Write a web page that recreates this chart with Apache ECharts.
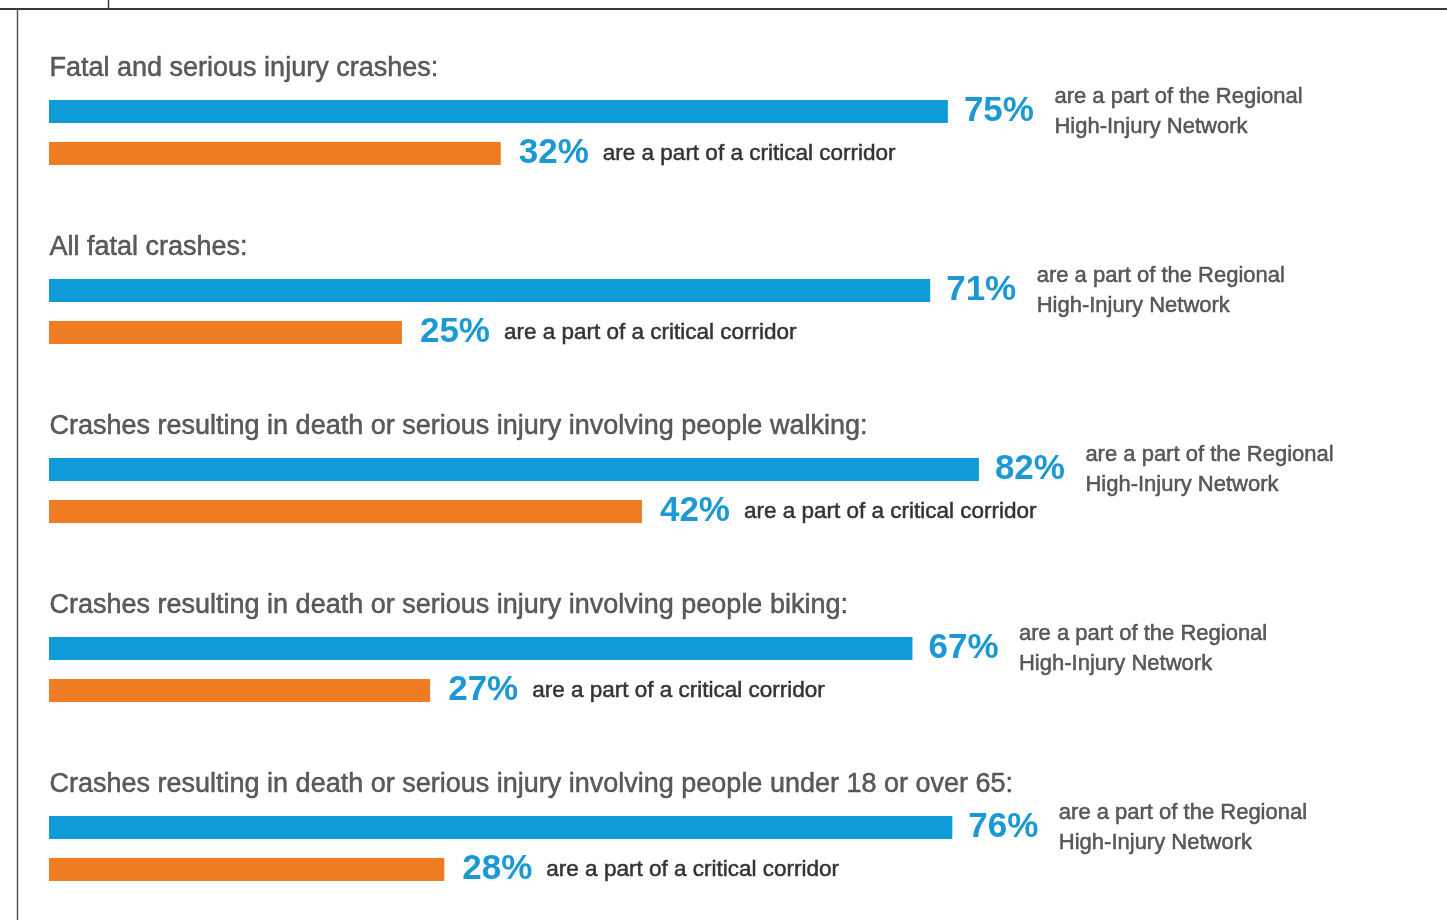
<!DOCTYPE html>
<html>
<head>
<meta charset="utf-8">
<script src="https://cdn.jsdelivr.net/npm/echarts@6/dist/echarts.min.js"></script>
<style>
html,body{margin:0;padding:0;background:#fff;}
#chart{width:1447px;height:920px;}
</style>
</head>
<body>
<div id="chart"></div>
<script>
// ---- data ----
const categories = [
  'Fatal and serious injury crashes:',
  'All fatal crashes:',
  'Crashes resulting in death or serious injury involving people walking:',
  'Crashes resulting in death or serious injury involving people biking:',
  'Crashes resulting in death or serious injury involving people under 18 or over 65:'
];
const hinValues = [75, 71, 82, 67, 76];        // % on Regional High-Injury Network
const corridorValues = [32, 25, 42, 27, 28];   // % on a critical corridor
const hinText = 'are a part of the Regional\nHigh-Injury Network';
const corridorText = 'are a part of a critical corridor';

// ---- styles ----
const BLUE = '#0f9bd8';
const ORANGE = '#ef7c22';
const PCT = '#1c98d4';
const TXT = '#333333';
const FONT = '"Liberation Sans", Arial, sans-serif';

const chart = echarts.init(document.getElementById('chart'), null, {renderer: 'canvas'});

const option = {
  backgroundColor: '#ffffff',
  animation: false,
  grid: {left: 49, top: 43, width: 1200, height: 895, containLabel: false, outerBoundsMode: 'none'},
  xAxis: [
    // the infographic's blue bars are drawn on a non-zero-based scale
    {type: 'value', min: -128, max: 143, startValue: -128, show: false},
    {type: 'value', min: 0, max: 85, show: false}
  ],
  yAxis: {
    type: 'category', data: categories, inverse: true, show: false
  },
  graphic: [
    {type: 'line', shape: {x1: 0, y1: 9, x2: 1447, y2: 9}, style: {stroke: '#3a3a3a', lineWidth: 2}, silent: true},
    {type: 'line', shape: {x1: 17.5, y1: 9, x2: 17.5, y2: 920}, style: {stroke: '#555', lineWidth: 1.5}, silent: true},
    {type: 'line', shape: {x1: 108.5, y1: 0, x2: 108.5, y2: 9}, style: {stroke: '#3a3a3a', lineWidth: 1.5}, silent: true}
  ],
  series: [
    {
      name: 'High-Injury Network', type: 'bar', xAxisIndex: 0, yAxisIndex: 0,
      data: hinValues, barWidth: 23, barGap: '83%',
      itemStyle: {color: BLUE},
      label: {
        show: true, position: 'right', distance: 16,
        formatter: p => p.value + '%',
        color: PCT, fontFamily: FONT, fontWeight: 'bold', fontSize: 35
      }
    },
    {
      name: 'Critical corridor', type: 'bar', xAxisIndex: 1, yAxisIndex: 0,
      data: corridorValues, barWidth: 23, barGap: '83%',
      itemStyle: {color: ORANGE},
      label: {
        show: true, position: 'right', distance: 18,
        formatter: p => '{p|' + p.value + '%}{t|' + corridorText + '}',
        rich: {
          p: {color: PCT, fontFamily: FONT, fontWeight: 'bold', fontSize: 35},
          t: {color: TXT, fontFamily: FONT, fontSize: 22.5, padding: [0, 0, 0, 14],
              textBorderColor: TXT, textBorderWidth: 0.5}
        }
      }
    },
    {
      name: 'hinDesc', type: 'scatter', xAxisIndex: 0, yAxisIndex: 0,
      data: hinValues.map((v, i) => [v, categories[i]]),
      symbolSize: 1, itemStyle: {color: 'rgba(0,0,0,0)'}, silent: true,
      label: {
        show: true, position: 'right', distance: 0, offset: [106, -21],
        formatter: hinText,
        color: TXT, fontFamily: FONT, fontSize: 22, lineHeight: 30,
        textBorderColor: TXT, textBorderWidth: 0.5
      }
    },
    {
      name: 'titles', type: 'scatter', xAxisIndex: 1, yAxisIndex: 0,
      data: categories.map(c => [0, c]),
      symbolSize: 1, itemStyle: {color: 'rgba(0,0,0,0)'}, silent: true,
      label: {
        show: true, position: 'right', distance: 0, offset: [0, -64],
        formatter: p => p.value[1],
        color: TXT, fontFamily: FONT, fontSize: 27,
        textBorderColor: TXT, textBorderWidth: 0.5
      }
    }
  ]
};
chart.setOption(option);
</script>
</body>
</html>
